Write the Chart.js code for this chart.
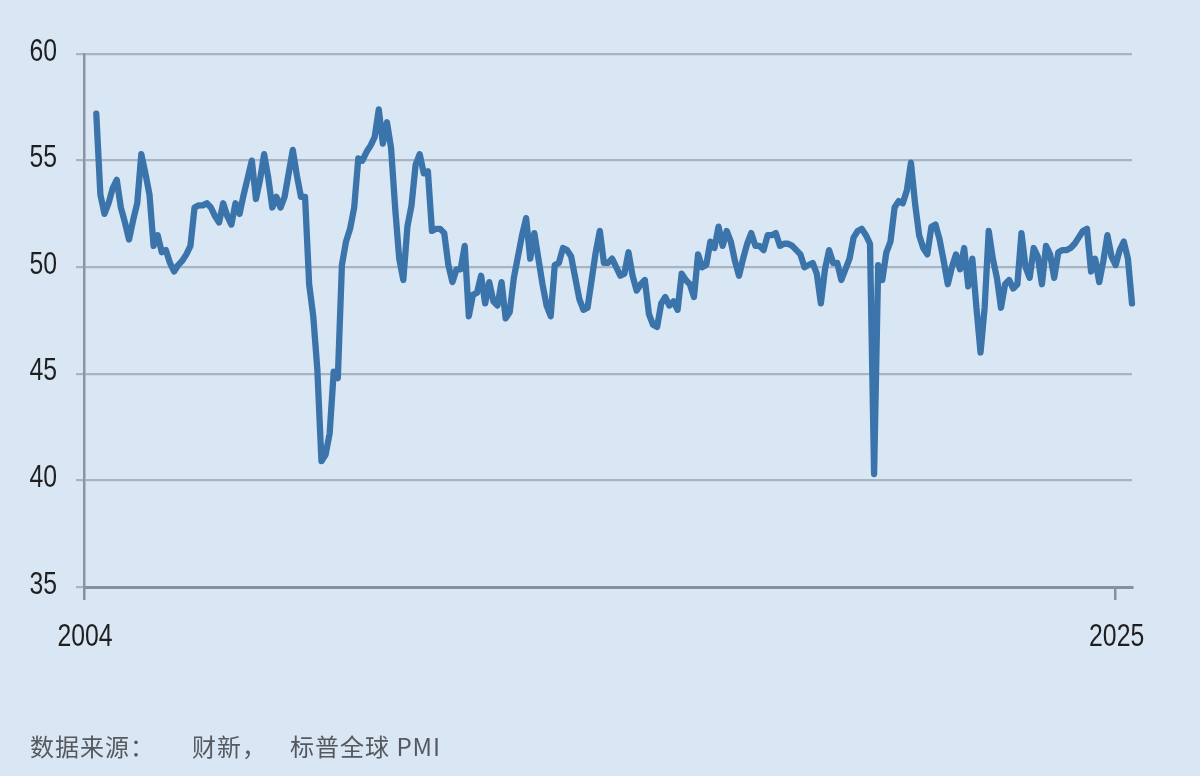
<!DOCTYPE html>
<html>
<head>
<meta charset="utf-8">
<script src="https://cdn.jsdelivr.net/npm/chart.js@4.4.1/dist/chart.umd.min.js"></script>
<style>
  html, body { margin: 0; padding: 0; background: #d9e6f3; }
  #wrap { position: relative; width: 1200px; height: 776px; background: #d9e6f3; }
  #chart { position: absolute; left: 0; top: 0; }
  .src {
    position: absolute; top: 734px; line-height: 24px; white-space: pre;
    font-family: "Noto Sans CJK SC", "Noto Sans", sans-serif;
    font-size: 24px; letter-spacing: 1px; color: #55595f;
  }
</style>
</head>
<body>
<div id="wrap">
  <canvas id="chart" width="1200" height="776"></canvas>
  <span class="src" style="left:30px">数据来源：</span>
  <span class="src" style="left:192px">财新，</span>
  <span class="src" style="left:290px">标普全球 PMI</span>
</div>
<script>
// 财新/标普全球 中国制造业PMI，月度，2004年4月起
const startYear = 2004;
const startMonth = 4;
const pmi = [
  // 2004 (Apr-Dec)
  57.2, 53.4, 52.5, 53.0, 53.7, 54.1, 52.8, 52.1, 51.3,
  // 2005
  52.2, 53.0, 55.3, 54.4, 53.4, 51.0, 51.5, 50.7, 50.8, 50.2, 49.8, 50.1,
  // 2006
  50.3, 50.6, 51.0, 52.8, 52.9, 52.9, 53.0, 52.8, 52.4, 52.1, 53.0, 52.4,
  // 2007
  52.0, 53.0, 52.5, 53.4, 54.2, 55.0, 53.2, 54.1, 55.3, 54.2, 52.8, 53.3,
  // 2008
  52.8, 53.3, 54.4, 55.5, 54.3, 53.3, 53.3, 49.2, 47.7, 45.2, 40.9, 41.2,
  // 2009
  42.2, 45.1, 44.8, 50.1, 51.2, 51.8, 52.8, 55.1, 55.0, 55.4, 55.7, 56.1,
  // 2010
  57.4, 55.8, 56.8, 55.6, 52.8, 50.4, 49.4, 51.9, 52.9, 54.8, 55.3, 54.4,
  // 2011
  54.5, 51.7, 51.8, 51.8, 51.6, 50.1, 49.3, 49.9, 49.9, 51.0, 47.7, 48.7,
  // 2012
  48.8, 49.6, 48.3, 49.3, 48.4, 48.2, 49.3, 47.6, 47.9, 49.5, 50.5, 51.5,
  // 2013
  52.3, 50.4, 51.6, 50.4, 49.2, 48.2, 47.7, 50.1, 50.2, 50.9, 50.8, 50.5,
  // 2014
  49.5, 48.5, 48.0, 48.1, 49.4, 50.7, 51.7, 50.2, 50.2, 50.4, 50.0, 49.6,
  // 2015
  49.7, 50.7, 49.6, 48.9, 49.2, 49.4, 47.8, 47.3, 47.2, 48.3, 48.6, 48.2,
  // 2016
  48.4, 48.0, 49.7, 49.4, 49.2, 48.6, 50.6, 50.0, 50.1, 51.2, 50.9, 51.9,
  // 2017
  51.0, 51.7, 51.2, 50.3, 49.6, 50.4, 51.1, 51.6, 51.0, 51.0, 50.8, 51.5,
  // 2018
  51.5, 51.6, 51.0, 51.1, 51.1, 51.0, 50.8, 50.6, 50.0, 50.1, 50.2, 49.7,
  // 2019
  48.3, 49.9, 50.8, 50.2, 50.2, 49.4, 49.9, 50.4, 51.4, 51.7, 51.8, 51.5,
  // 2020
  51.1, 40.3, 50.1, 49.4, 50.7, 51.2, 52.8, 53.1, 53.0, 53.6, 54.9, 53.0,
  // 2021
  51.5, 50.9, 50.6, 51.9, 52.0, 51.3, 50.3, 49.2, 50.0, 50.6, 49.9, 50.9,
  // 2022
  49.1, 50.4, 48.1, 46.0, 48.1, 51.7, 50.4, 49.5, 48.1, 49.2, 49.4, 49.0,
  // 2023
  49.2, 51.6, 50.0, 49.5, 50.9, 50.5, 49.2, 51.0, 50.6, 49.5, 50.7, 50.8,
  // 2024
  50.8, 50.9, 51.1, 51.4, 51.7, 51.8, 49.8, 50.4, 49.3, 50.3, 51.5, 50.5,
  // 2025 (Jan-May)
  50.1, 50.8, 51.2, 50.4, 48.3
];
const yTicks = [35, 40, 45, 50, 55, 60];
const xTicks = [2004, 2025];

// 月份 -> 小数年份
const points = pmi.map((v, i) => ({
  x: startYear + (startMonth - 1 + i) / 12,
  y: v
}));
const lastX = points[points.length - 1].x;

// 刻度文字稍微压扁一点，跟原图的窄字体接近
const labelPlugin = {
  id: 'narrowLabels',
  afterDraw(chart) {
    const ctx = chart.ctx;
    const xs = chart.scales.x;
    const ys = chart.scales.y;
    ctx.save();
    ctx.fillStyle = '#1f1f1f';
    ctx.font = '31px "Liberation Sans", Arial, sans-serif';
    ctx.textBaseline = 'middle';

    ctx.textAlign = 'right';
    yTicks.forEach(v => {
      ctx.save();
      ctx.translate(ys.right - 27, ys.getPixelForValue(v) - 2);
      ctx.scale(0.8, 1);
      ctx.fillText(String(v), 0, 0);
      ctx.restore();
    });

    ctx.textAlign = 'center';
    xTicks.forEach(v => {
      ctx.save();
      ctx.translate(xs.getPixelForValue(v) + 1, xs.top + 50);
      ctx.scale(0.8, 1);
      ctx.fillText(String(v), 0, 0);
      ctx.restore();
    });
    ctx.restore();
  }
};

new Chart(document.getElementById('chart'), {
  type: 'line',
  data: {
    datasets: [{
      data: points,
      borderColor: '#3a74ab',
      borderWidth: 6.3,
      borderJoinStyle: 'round',
      borderCapStyle: 'round',
      pointRadius: 0,
      tension: 0,
      clip: 8
    }]
  },
  options: {
    responsive: false,
    animation: false,
    devicePixelRatio: 1,
    layout: { padding: { left: 0, right: 68, top: 54, bottom: 0 } },
    plugins: { legend: { display: false }, tooltip: { enabled: false } },
    scales: {
      x: {
        type: 'linear',
        min: startYear,
        max: lastX,
        afterBuildTicks: scale => { scale.ticks = xTicks.map(v => ({ value: v })); },
        afterFit: scale => { scale.height = 189; },
        ticks: { display: false },
        grid: {
          drawOnChartArea: false,
          drawTicks: true,
          tickLength: 13,
          color: '#86919d',
          lineWidth: 2.5
        },
        border: { color: '#86919d', width: 3 }
      },
      y: {
        min: 35,
        max: 60,
        afterBuildTicks: scale => { scale.ticks = yTicks.map(v => ({ value: v })); },
        afterFit: scale => { scale.width = 84; },
        ticks: { display: false },
        grid: {
          color: '#a8b4c1',
          lineWidth: 2.2,
          drawTicks: true,
          tickLength: 8
        },
        border: { color: '#8a95a2', width: 2.5 }
      }
    }
  },
  plugins: [labelPlugin]
});
</script>
</body>
</html>
